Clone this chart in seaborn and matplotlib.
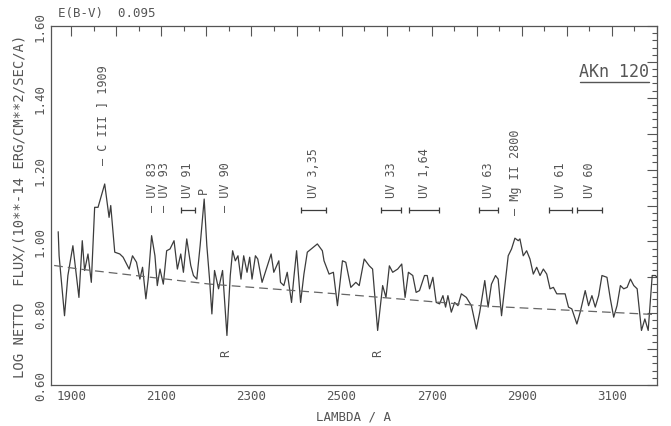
import matplotlib
matplotlib.use("Agg")
import matplotlib.pyplot as plt
import seaborn as sns
import pandas as pd
from matplotlib.ticker import MultipleLocator, FuncFormatter

# ---- spectrum (observed wavelength in Angstrom, log netto flux) ----
wave = [1871, 1873, 1885.0, 1892.5, 1903.6, 1917.0, 1924.4, 1929.6, 1937.1, 1944.5,
        1951.9, 1959.4, 1974.2, 1983.9, 1987.6, 1996.5, 2007.7, 2015.1, 2028.5, 2035.9,
        2044.8, 2052.3, 2058.2, 2065.6, 2070.8, 2078.3, 2085.7, 2090.9, 2096.9, 2104.3,
        2111.7, 2119.2, 2128.1, 2135.5, 2143.0, 2148.9, 2156.3, 2165.2, 2171.2, 2178.6,
        2186.0, 2195.0, 2200.9, 2206.9, 2212.1, 2218.0, 2226.9, 2235.8, 2245.5, 2252.9,
        2258.1, 2264.1, 2270.0, 2276.7, 2282.7, 2290.1, 2296.0, 2301.2, 2308.7, 2313.9,
        2323.5, 2343.6, 2349.5, 2360.7, 2364.4, 2371.8, 2379.3, 2388.9, 2394.1, 2400.1,
        2409.0, 2416.4, 2423.9, 2446.2, 2457.3, 2461.0, 2472.2, 2481.8, 2490.8, 2501.9,
        2509.3, 2520.5, 2531.6, 2539.1, 2550.2, 2561.4, 2568.8, 2580.0, 2591.1, 2598.5,
        2606.0, 2613.4, 2624.5, 2633.5, 2640.9, 2648.3, 2658.0, 2665.4, 2672.9, 2684.0,
        2690.0, 2695.2, 2702.6, 2710.0, 2717.5, 2724.9, 2730.8, 2736.0, 2743.5, 2750.9,
        2758.3, 2765.8, 2776.9, 2788.1, 2799.2, 2806.6, 2817.8, 2825.2, 2832.6, 2841.6,
        2847.5, 2855.0, 2863.9, 2869.8, 2877.2, 2884.7, 2892.1, 2895.8, 2903.2, 2910.7,
        2918.1, 2925.5, 2933.0, 2940.4, 2947.8, 2955.3, 2962.7, 2970.1, 2977.6, 2985.0,
        2996.1, 3003.6, 3011.0, 3022.2, 3029.6, 3040.7, 3048.2, 3055.6, 3063.0, 3070.5,
        3077.9, 3089.0, 3096.5, 3103.9, 3111.3, 3118.8, 3126.2, 3133.7, 3141.1, 3148.5,
        3156.0, 3165.6, 3173.1, 3180.5, 3189.4, 3196.8, 3200]
flux = [1.027, 0.960, 0.793, 0.905, 0.988, 0.844, 1.002, 0.919, 0.965, 0.886,
        1.095, 1.095, 1.160, 1.067, 1.100, 0.970, 0.965, 0.956, 0.923, 0.960,
        0.942, 0.895, 0.928, 0.840, 0.895, 1.016, 0.960, 0.877, 0.923, 0.881,
        0.974, 0.979, 1.002, 0.923, 0.965, 0.914, 1.007, 0.933, 0.905, 0.895,
        0.988, 1.118, 0.988, 0.895, 0.798, 0.919, 0.868, 0.919, 0.738, 0.905,
        0.974, 0.946, 0.960, 0.895, 0.960, 0.914, 0.956, 0.895, 0.960, 0.951,
        0.886, 0.965, 0.914, 0.946, 0.886, 0.877, 0.914, 0.830, 0.900, 0.974,
        0.830, 0.909, 0.970, 0.993, 0.974, 0.946, 0.909, 0.914, 0.821, 0.946,
        0.942, 0.872, 0.886, 0.877, 0.951, 0.932, 0.923, 0.752, 0.877, 0.844,
        0.932, 0.914, 0.923, 0.937, 0.844, 0.914, 0.905, 0.858, 0.863, 0.905,
        0.905, 0.868, 0.900, 0.830, 0.826, 0.849, 0.817, 0.849, 0.803, 0.830,
        0.821, 0.854, 0.844, 0.821, 0.756, 0.803, 0.891, 0.817, 0.881, 0.905,
        0.895, 0.793, 0.895, 0.960, 0.979, 1.009, 1.002, 1.007, 0.960, 0.974,
        0.951, 0.909, 0.928, 0.905, 0.923, 0.909, 0.868, 0.872, 0.854, 0.854,
        0.854, 0.817, 0.812, 0.770, 0.803, 0.863, 0.821, 0.849, 0.817, 0.849,
        0.905, 0.900, 0.840, 0.789, 0.821, 0.877, 0.868, 0.872, 0.895, 0.877,
        0.868, 0.752, 0.784, 0.752, 0.905, 0.905, 0.900]

# ---- dashed continuum ----
cont_wave = [1862, 1918, 2208, 2520, 2817, 3200]
cont_flux = [0.933, 0.923, 0.881, 0.851, 0.820, 0.796]

# ---- line identifications with range bars ----
bar_labels = ["UV 91", "UV 3,35", "UV 33", "UV 1,64", "UV 63", "UV 61", "UV 60"]
bar_lo = [2143, 2411, 2588, 2650, 2806, 2960, 3022]
bar_hi = [2175, 2465, 2632, 2717, 2848, 3011, 3077]

# ---- line identifications with a single dash ----
dash_labels = ["— C III ] 1909", "— UV 83", "— UV 93", "— UV 90", "— Mg II 2800"]
dash_wave = [1970, 2080, 2108, 2242, 2885]
dash_base = [1.216, 1.085, 1.085, 1.085, 1.076]

# ---- single-letter marks ----
mark_labels = ["P", "R", "R"]
mark_wave = [2193, 2242, 2580]
mark_flux = [1.146, 0.692, 0.692]

xlim = (1855, 3200)
ylim = (0.60, 1.60)
xtick_labels = [1900, 2100, 2300, 2500, 2700, 2900, 3100]

sns.set_style("white")
plt.rcParams["font.family"] = ["DejaVu Sans Mono", "DejaVu Sans"]

fig = plt.figure(figsize=(6.71, 4.27), dpi=100)
ax = fig.add_axes([0.0760, 0.0960, 0.9031, 0.8407])

ink = "#3c3c3c"
txt = "#555555"

spec = pd.DataFrame({"wave": wave, "flux": flux})
cont = pd.DataFrame({"wave": cont_wave, "flux": cont_flux})
sns.lineplot(data=spec, x="wave", y="flux", ax=ax, color=ink, lw=0.9,
             sort=False, estimator=None)
sns.lineplot(data=cont, x="wave", y="flux", ax=ax, color="#666666", lw=0.9,
             estimator=None, linestyle=(0, (7, 4)))

bar_y = 1.088
for lab, lo, hi in zip(bar_labels, bar_lo, bar_hi):
    c = (lo + hi) / 2
    ax.errorbar([c], [bar_y], xerr=[(hi - lo) / 2], fmt="none",
                ecolor=ink, elinewidth=0.9, capsize=2.5, capthick=0.9)
    ax.text(c, bar_y + 0.035, lab, rotation=90, ha="center", va="bottom",
            fontsize=8.5, color=txt)

for lab, w, b in zip(dash_labels, dash_wave, dash_base):
    ax.text(w, b, lab, rotation=90, ha="center", va="bottom",
            fontsize=8.5, color=txt)

for lab, w, f in zip(mark_labels, mark_wave, mark_flux):
    ax.text(w, f, lab, rotation=90, ha="center", va="center",
            fontsize=8.5, color=txt)

ax.text(0.929, 0.875, "AKn 120", transform=ax.transAxes, ha="center",
        va="center", fontsize=12, color=txt)
ax.plot([0.873, 0.987], [0.843, 0.843], transform=ax.transAxes,
        color=txt, lw=1.0)

fig.text(58 / 671, 1 - 14 / 427, "E(B-V)  0.095", ha="left", va="center",
         fontsize=9, color=txt)

ax.set_xlim(*xlim)
ax.set_ylim(*ylim)

ax.xaxis.set_major_locator(MultipleLocator(100))
ax.xaxis.set_minor_locator(MultipleLocator(50))
ax.xaxis.set_major_formatter(FuncFormatter(
    lambda v, p: f"{int(round(v))}" if int(round(v)) in xtick_labels else ""))
ax.yaxis.set_major_locator(MultipleLocator(0.1))
ax.yaxis.set_minor_locator(MultipleLocator(0.02))
ax.yaxis.set_major_formatter(FuncFormatter(
    lambda v, p: f"{v:.2f}" if int(round(v * 10)) % 2 == 0 else ""))

ax.tick_params(which="both", direction="in", top=True, right=True,
               color=txt, width=0.8, labelcolor=txt, labelsize=9)
ax.tick_params(which="major", length=7, pad=3)
ax.tick_params(which="minor", length=3.5)
for lab in ax.get_yticklabels():
    lab.set_rotation(90)
    lab.set_va("center")

for s in ax.spines.values():
    s.set_color(txt)
    s.set_linewidth(0.9)

ax.set_xlabel("LAMBDA / A", fontsize=9, color=txt, labelpad=5)
ax.set_ylabel("LOG NETTO  FLUX/(10**-14 ERG/CM**2/SEC/A)", fontsize=10,
              color=txt, labelpad=5)

fig.savefig("out.png", dpi=100, facecolor="white")
